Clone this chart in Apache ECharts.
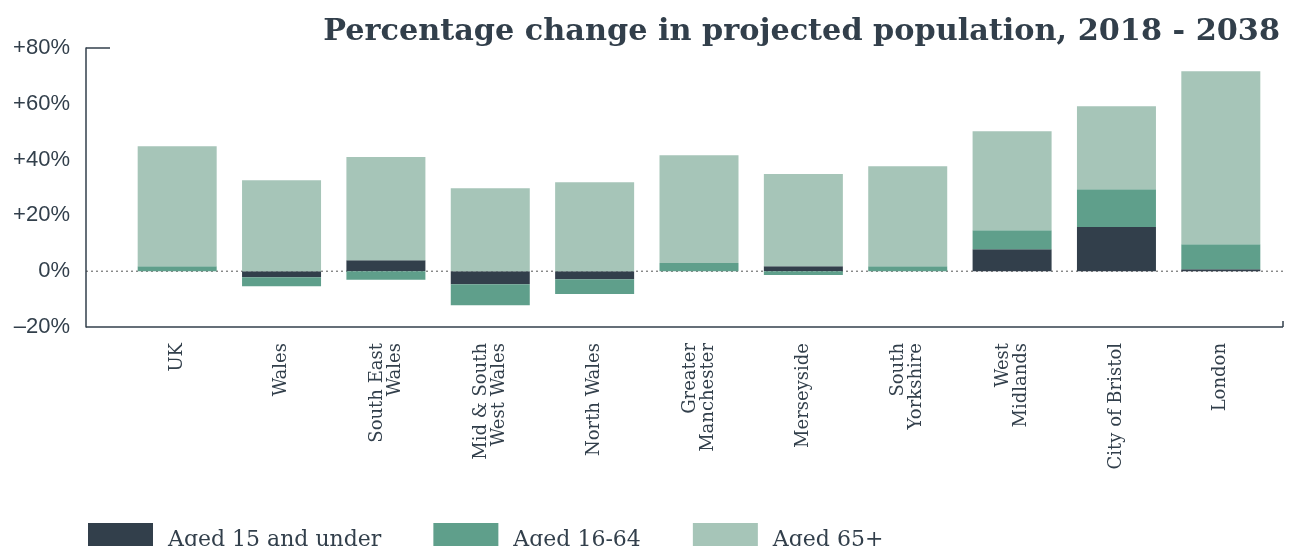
<!DOCTYPE html>
<html>
<head>
<meta charset="utf-8">
<script src="https://cdn.jsdelivr.net/npm/echarts@6/dist/echarts.min.js"></script>
<style>html,body{margin:0;padding:0;background:#fff}#c{width:1294px;height:546px}</style>
</head>
<body>
<div id="c"></div>
<script>
const categories = ['UK', 'Wales', 'South East\nWales', 'Mid & South\nWest Wales', 'North Wales', 'Greater\nManchester', 'Merseyside', 'South\nYorkshire', 'West\nMidlands', 'City of Bristol', 'London'];
const aged15Under = [0, -2.2, 3.9, -4.7, -2.9, 0, 1.8, 0, 7.9, 15.8, 0.7];
const aged16to64 = [1.8, -3.2, -3.1, -7.5, -5.3, 2.9, -1.4, 1.8, 6.8, 13.6, 9.0];
const aged65plus = [43.0, 32.6, 37.0, 29.7, 31.9, 38.7, 33.0, 35.8, 35.5, 29.7, 62.0];
const yTicks = [-20, 0, 20, 40, 60, 80];
const title = 'Percentage change in projected population, 2018 - 2038';

const DARK = '#323f4b', MID = '#5f9f8b', LIGHT = '#a6c5b8';
const chart = echarts.init(document.getElementById('c'));

function fmt(v) { return v > 0 ? '+' + v + '%' : (v < 0 ? '\u2013' + Math.abs(v) + '%' : '0%'); }

const option = {
  animation: false,
  title: {
    text: title, right: 9, top: 12,
    textStyle: { fontFamily: 'DejaVu Serif', fontWeight: 'bold', fontSize: 30.3, color: DARK }
  },
  legend: {
    left: 83, top: 518, itemWidth: 65, itemHeight: 34, itemGap: 52, icon: 'rect',
    textStyle: { fontFamily: 'DejaVu Serif', fontSize: 22, color: DARK, padding: [0, 0, 0, 10] },
    data: ['Aged 15 and under', 'Aged 16-64', 'Aged 65+']
  },
  grid: { left: 125, right: 21, top: 48, bottom: 219 },
  xAxis: {
    type: 'category', data: categories,
    axisLine: { show: false }, axisTick: { show: false },
    axisLabel: { rotate: 90, margin: 16, fontFamily: 'DejaVu Serif', fontSize: 18, color: DARK, lineHeight: 18, interval: 0 }
  },
  yAxis: {
    type: 'value', min: yTicks[0], max: yTicks[yTicks.length - 1], interval: 20, offset: 39,
    axisLine: { show: true, lineStyle: { color: DARK, width: 1.5 } },
    axisTick: { show: false }, splitLine: { show: false },
    axisLabel: { formatter: fmt, margin: 16, fontFamily: 'Liberation Sans', fontSize: 22, color: DARK }
  },
  series: [
    { name: 'Aged 15 and under', type: 'bar', stack: 'a', barWidth: 79, data: aged15Under, itemStyle: { color: DARK } },
    { name: 'Aged 16-64', type: 'bar', stack: 'a', data: aged16to64, itemStyle: { color: MID } },
    { name: 'Aged 65+', type: 'bar', stack: 'a', data: aged65plus, itemStyle: { color: LIGHT } }
  ]
};
chart.setOption(option);

const y0 = chart.convertToPixel({ yAxisIndex: 0 }, 0);
const yTop = chart.convertToPixel({ yAxisIndex: 0 }, 80);
const yBot = chart.convertToPixel({ yAxisIndex: 0 }, -20);
const xL = 86, xR = 1283;
chart.setOption({
  graphic: [
    { type: 'line', z: 0, shape: { x1: xL, y1: y0, x2: xR, y2: y0 }, style: { stroke: '#555', lineWidth: 1, lineDash: [2, 3] } },
    { type: 'line', shape: { x1: xL, y1: yBot, x2: xR, y2: yBot }, style: { stroke: DARK, lineWidth: 1.5 } },
    { type: 'line', shape: { x1: xR, y1: yBot, x2: xR, y2: yBot - 6 }, style: { stroke: DARK, lineWidth: 1.5 } },
    { type: 'line', shape: { x1: xL, y1: yTop, x2: 110, y2: yTop }, style: { stroke: DARK, lineWidth: 1.5 } }
  ]
});
</script>
</body>
</html>
